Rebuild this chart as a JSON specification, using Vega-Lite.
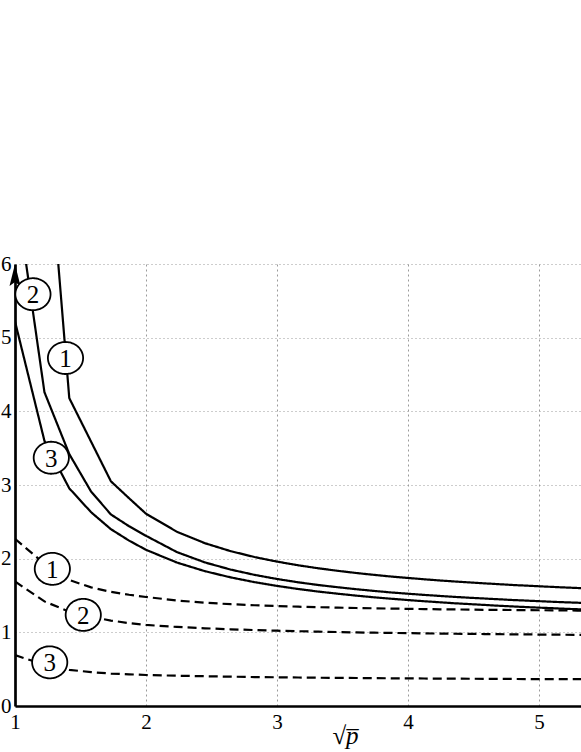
{
  "$schema": "https://vega.github.io/schema/vega-lite/v6.json",
  "width": 566,
  "height": 442,
  "autosize": {"type": "none"},
  "padding": {"left": 15, "top": 264, "right": 0, "bottom": 46},
  "background": "white",
  "config": {
    "view": {"stroke": null},
    "axis": {
      "grid": true,
      "gridColor": "#9a9a9a",
      "gridWidth": 1,
      "domainColor": "black",
      "domainWidth": 2.7,
      "ticks": false,
      "labelFont": "Liberation Serif, Times New Roman, serif",
      "labelFontSize": 21,
      "labelColor": "black",
      "labelFlush": false,
      "labelOverlap": false,
      "format": "d",
      "titleColor": "black"
    }
  },
  "datasets": {
    "curves": [
      {"x": 1, "s1": 13.2, "s2": 7.06, "s3": 5.22, "d1": 2.27, "d2": 1.69, "d3": 0.69},
      {"x": 1.2247, "s1": 8.3, "s2": 4.26, "s3": 3.6, "d1": 1.93, "d2": 1.42, "d3": 0.56},
      {"x": 1.4142, "s1": 4.18, "s2": 3.42, "s3": 2.955, "d1": 1.71, "d2": 1.28, "d3": 0.49},
      {"x": 1.5811, "s1": 3.587, "s2": 2.91, "s3": 2.63, "d1": 1.61, "d2": 1.21, "d3": 0.46},
      {"x": 1.7321, "s1": 3.05, "s2": 2.6, "s3": 2.4, "d1": 1.55, "d2": 1.16, "d3": 0.44},
      {"x": 1.8708, "s1": 2.82, "s2": 2.44, "s3": 2.245, "d1": 1.51, "d2": 1.125, "d3": 0.43},
      {"x": 2, "s1": 2.61, "s2": 2.31, "s3": 2.12, "d1": 1.48, "d2": 1.1, "d3": 0.421},
      {"x": 2.2361, "s1": 2.365, "s2": 2.089, "s3": 1.947, "d1": 1.432, "d2": 1.073, "d3": 0.411},
      {"x": 2.4495, "s1": 2.21, "s2": 1.949, "s3": 1.83, "d1": 1.402, "d2": 1.055, "d3": 0.404},
      {"x": 2.6458, "s1": 2.102, "s2": 1.852, "s3": 1.746, "d1": 1.382, "d2": 1.041, "d3": 0.398},
      {"x": 2.8284, "s1": 2.022, "s2": 1.78, "s3": 1.681, "d1": 1.368, "d2": 1.031, "d3": 0.393},
      {"x": 3, "s1": 1.96, "s2": 1.724, "s3": 1.63, "d1": 1.357, "d2": 1.022, "d3": 0.39},
      {"x": 3.1623, "s1": 1.91, "s2": 1.679, "s3": 1.588, "d1": 1.348, "d2": 1.015, "d3": 0.387},
      {"x": 3.3166, "s1": 1.869, "s2": 1.642, "s3": 1.553, "d1": 1.341, "d2": 1.009, "d3": 0.384},
      {"x": 3.4641, "s1": 1.835, "s2": 1.612, "s3": 1.524, "d1": 1.335, "d2": 1.004, "d3": 0.382},
      {"x": 3.6056, "s1": 1.805, "s2": 1.585, "s3": 1.498, "d1": 1.33, "d2": 0.999, "d3": 0.38},
      {"x": 3.7417, "s1": 1.78, "s2": 1.562, "s3": 1.475, "d1": 1.326, "d2": 0.995, "d3": 0.378},
      {"x": 3.873, "s1": 1.757, "s2": 1.541, "s3": 1.456, "d1": 1.322, "d2": 0.992, "d3": 0.376},
      {"x": 4, "s1": 1.738, "s2": 1.524, "s3": 1.438, "d1": 1.319, "d2": 0.989, "d3": 0.375},
      {"x": 4.1231, "s1": 1.72, "s2": 1.508, "s3": 1.422, "d1": 1.316, "d2": 0.986, "d3": 0.373},
      {"x": 4.2426, "s1": 1.704, "s2": 1.494, "s3": 1.408, "d1": 1.313, "d2": 0.983, "d3": 0.372},
      {"x": 4.3589, "s1": 1.69, "s2": 1.481, "s3": 1.394, "d1": 1.311, "d2": 0.981, "d3": 0.371},
      {"x": 4.4721, "s1": 1.677, "s2": 1.469, "s3": 1.383, "d1": 1.308, "d2": 0.979, "d3": 0.37},
      {"x": 4.5826, "s1": 1.665, "s2": 1.459, "s3": 1.372, "d1": 1.306, "d2": 0.977, "d3": 0.369},
      {"x": 4.6904, "s1": 1.654, "s2": 1.449, "s3": 1.361, "d1": 1.305, "d2": 0.975, "d3": 0.368},
      {"x": 4.7958, "s1": 1.643, "s2": 1.439, "s3": 1.352, "d1": 1.303, "d2": 0.973, "d3": 0.367},
      {"x": 4.899, "s1": 1.634, "s2": 1.431, "s3": 1.343, "d1": 1.301, "d2": 0.972, "d3": 0.366},
      {"x": 5, "s1": 1.625, "s2": 1.423, "s3": 1.335, "d1": 1.3, "d2": 0.97, "d3": 0.366},
      {"x": 5.099, "s1": 1.617, "s2": 1.415, "s3": 1.328, "d1": 1.299, "d2": 0.969, "d3": 0.365},
      {"x": 5.1962, "s1": 1.609, "s2": 1.408, "s3": 1.32, "d1": 1.297, "d2": 0.967, "d3": 0.364},
      {"x": 5.2915, "s1": 1.602, "s2": 1.402, "s3": 1.314, "d1": 1.296, "d2": 0.966, "d3": 0.364},
      {"x": 5.3852, "s1": 1.595, "s2": 1.396, "s3": 1.307, "d1": 1.295, "d2": 0.965, "d3": 0.363}
    ],
    "labels": [
      {"x": 1.3855, "y": 4.724, "label": "1", "kind": "solid"},
      {"x": 1.137, "y": 5.59, "label": "2", "kind": "solid"},
      {"x": 1.277, "y": 3.37, "label": "3", "kind": "solid"},
      {"x": 1.285, "y": 1.862, "label": "1", "kind": "dashed"},
      {"x": 1.521, "y": 1.237, "label": "2", "kind": "dashed"},
      {"x": 1.265, "y": 0.593, "label": "3", "kind": "dashed"}
    ],
    "arrow": [{"x": 1, "y": 5.813}]
  },
  "layer": [
    {
      "data": {"name": "curves"},
      "transform": [{"fold": ["s1", "s2", "s3", "d1", "d2", "d3"], "as": ["curve", "y"]}],
      "mark": {"type": "line", "clip": true, "strokeWidth": 2.2, "color": "black", "strokeCap": "butt"},
      "encoding": {
        "x": {
          "field": "x", "type": "quantitative",
          "scale": {"domain": [1, 5.32], "nice": false, "zero": false},
          "axis": {
            "values": [1, 2, 3, 4, 5],
            "gridDash": [2, 3],
            "labelPadding": 5,
            "title": "√p̅",
            "titleFont": "Liberation Serif, Times New Roman, serif",
            "titleFontSize": 25,
            "titleFontStyle": "italic",
            "titleFontWeight": "normal",
            "titleX": 330,
            "titleY": 37,
            "titleAlign": "center",
            "titleBaseline": "alphabetic"
          }
        },
        "y": {
          "field": "y", "type": "quantitative",
          "scale": {"domain": [0, 6], "nice": false},
          "axis": {"values": [0, 1, 2, 3, 4, 5, 6], "gridDash": [1, 3], "labelPadding": 4, "title": null}
        },
        "detail": {"field": "curve", "type": "nominal"},
        "strokeDash": {
          "field": "curve", "type": "nominal",
          "scale": {"domain": ["s1", "s2", "s3", "d1", "d2", "d3"], "range": [[1, 0], [1, 0], [1, 0], [9, 5], [9, 5], [9, 5]]},
          "legend": null
        }
      }
    },
    {
      "data": {"name": "arrow"},
      "mark": {"type": "point", "shape": "M0,-1L0.4,0.6L0,0.3L-0.4,0.6Z", "filled": true, "color": "black", "opacity": 1, "size": 756},
      "encoding": {
        "x": {"field": "x", "type": "quantitative"},
        "y": {"field": "y", "type": "quantitative"}
      }
    },
    {
      "data": {"name": "labels"},
      "mark": {"type": "point", "shape": "M1.1,0A1.1,1,0,1,1,-1.1,0A1.1,1,0,1,1,1.1,0Z", "filled": true, "fill": "white", "stroke": "black", "strokeWidth": 1.8, "opacity": 1, "fillOpacity": 1, "strokeOpacity": 1, "size": 1024},
      "encoding": {
        "x": {"field": "x", "type": "quantitative"},
        "y": {"field": "y", "type": "quantitative"},
        "strokeDash": {
          "field": "kind", "type": "nominal",
          "scale": {"domain": ["solid", "dashed"], "range": [[1, 0], [5, 4]]},
          "legend": null
        }
      }
    },
    {
      "data": {"name": "labels"},
      "mark": {"type": "text", "font": "Liberation Serif, Times New Roman, serif", "fontSize": 25, "color": "black", "align": "center", "baseline": "middle", "dy": 1},
      "encoding": {
        "x": {"field": "x", "type": "quantitative"},
        "y": {"field": "y", "type": "quantitative"},
        "text": {"field": "label", "type": "nominal"}
      }
    }
  ]
}
